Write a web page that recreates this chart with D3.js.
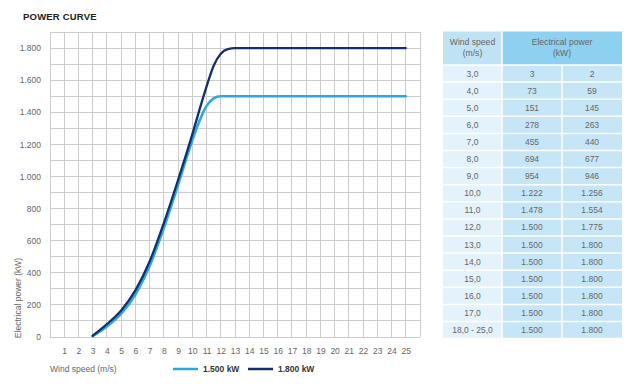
<!DOCTYPE html>
<html>
<head>
<meta charset="utf-8">
<script src="https://cdn.jsdelivr.net/npm/d3@7"></script>
<style>
  html, body { margin: 0; padding: 0; background: #fff; }
  svg { display: block; font-family: "Liberation Sans", Arial, sans-serif; }
</style>
</head>
<body>
<svg id="chart" width="629" height="388"></svg>
<script>
// ---- Data ----
const windSpeeds = [3,4,5,6,7,8,9,10,10.5,11,11.5,12,12.5,13,14,15,16,17,18,19,20,21,22,23,24,25];
const power1500  = [5,65,145,265,442,680,948,1225,1345,1440,1487,1500,1500,1500,1500,1500,1500,1500,1500,1500,1500,1500,1500,1500,1500,1500];
const power1800  = [8,80,165,290,470,710,978,1262,1415,1560,1690,1765,1794,1800,1800,1800,1800,1800,1800,1800,1800,1800,1800,1800,1800,1800];
const yTicks = [0,200,400,600,800,1000,1200,1400,1600,1800];
const xTicks = d3.range(1, 26);
const seriesNames = ["1.500 kW", "1.800 kW"];
const seriesColors = ["#2aa9e0", "#13306a"];

const tableWind = ["3,0","4,0","5,0","6,0","7,0","8,0","9,0","10,0","11,0","12,0","13,0","14,0","15,0","16,0","17,0","18,0 - 25,0"];
const table1500 = ["3","73","151","278","455","694","954","1.222","1.478","1.500","1.500","1.500","1.500","1.500","1.500","1.500"];
const table1800 = ["2","59","145","263","440","677","946","1.256","1.554","1.775","1.800","1.800","1.800","1.800","1.800","1.800"];

// ---- Layout ----
const svg = d3.select("#chart");
const plot = { left: 50, right: 420, top: 32, bottom: 337 };
const x = d3.scaleLinear().domain([0, 26]).range([plot.left, plot.right]);
const y = d3.scaleLinear().domain([0, 1900]).range([plot.bottom, plot.top]);
const fmt = v => d3.format(",")(v).replace(/,/g, ".");
const textColor = "#666";

// Title
svg.append("text").attr("x", 23).attr("y", 20)
  .attr("font-size", 9.5).attr("font-weight", "bold").attr("fill", "#222")
  .attr("letter-spacing", 0.2).text("POWER CURVE");

// Grid
const grid = svg.append("g").attr("stroke", "#cccccc").attr("stroke-width", 1).attr("shape-rendering", "crispEdges");
grid.selectAll("line.v").data(d3.range(0, 27)).join("line")
  .attr("x1", d => x(d)).attr("x2", d => x(d))
  .attr("y1", plot.top).attr("y2", plot.bottom);
grid.selectAll("line.h").data(d3.range(0, 2000, 100)).join("line")
  .attr("y1", d => y(d)).attr("y2", d => y(d))
  .attr("x1", plot.left).attr("x2", plot.right);

// Y axis
const yAxis = svg.append("g").attr("transform", `translate(${plot.left - 6},0)`)
  .call(d3.axisLeft(y).tickValues(yTicks).tickSize(0).tickFormat(fmt));
yAxis.select(".domain").remove();
yAxis.selectAll("text").attr("font-size", 8.5).attr("fill", textColor)
  .attr("font-family", "Liberation Sans, Arial, sans-serif");

// X axis
const xAxis = svg.append("g").attr("transform", `translate(0,${plot.bottom + 8})`)
  .call(d3.axisBottom(x).tickValues(xTicks).tickSize(0).tickFormat(d3.format("d")));
xAxis.select(".domain").remove();
xAxis.selectAll("text").attr("font-size", 8.5).attr("fill", textColor)
  .attr("font-family", "Liberation Sans, Arial, sans-serif");

// Axis labels
svg.append("text").attr("transform", "translate(21,298) rotate(-90)")
  .attr("text-anchor", "middle").attr("font-size", 8.5).attr("fill", textColor)
  .text("Electrical power (kW)");
svg.append("text").attr("x", 50).attr("y", 372)
  .attr("font-size", 8.5).attr("fill", textColor).text("Wind speed (m/s)");

// Lines
const line = d3.line().x(d => x(d[0])).y(d => y(d[1])).curve(d3.curveMonotoneX);
const series = [power1500, power1800];
series.forEach((vals, i) => {
  svg.append("path")
    .datum(windSpeeds.map((w, j) => [w, vals[j]]))
    .attr("fill", "none").attr("stroke", seriesColors[i])
    .attr("stroke-width", i === 0 ? 2.6 : 2.3)
    .attr("stroke-linecap", "round")
    .attr("d", line);
});

// Legend
const legendX = [173, 248];
seriesNames.forEach((name, i) => {
  const g = svg.append("g").attr("transform", `translate(${legendX[i]},369)`);
  g.append("line").attr("x1", 0).attr("x2", 25).attr("y1", 0).attr("y2", 0)
    .attr("stroke", seriesColors[i]).attr("stroke-width", 2.5);
  g.append("text").attr("x", 30).attr("y", 3).attr("font-size", 8.5)
    .attr("font-weight", "bold").attr("fill", "#333").text(name);
});

// ---- Table ----
const tbl = svg.append("g");
const colX = [443, 502, 562, 622];
const headTop = 31.5, headBottom = 65, rowH = 17.1;
tbl.append("rect").attr("x", colX[0]).attr("y", headTop).attr("width", colX[1] - colX[0]).attr("height", headBottom - headTop).attr("fill", "#bfe2f5");
tbl.append("rect").attr("x", colX[1]).attr("y", headTop).attr("width", colX[3] - colX[1]).attr("height", headBottom - headTop).attr("fill", "#8dd0f0");
const headFs = 8.6;
tbl.append("text").attr("x", (colX[0] + colX[1]) / 2).attr("y", 45).attr("text-anchor", "middle")
  .attr("font-size", headFs).attr("fill", textColor).text("Wind speed");
tbl.append("text").attr("x", (colX[0] + colX[1]) / 2).attr("y", 56).attr("text-anchor", "middle")
  .attr("font-size", headFs).attr("fill", textColor).text("(m/s)");
tbl.append("text").attr("x", (colX[1] + colX[3]) / 2).attr("y", 45).attr("text-anchor", "middle")
  .attr("font-size", headFs).attr("fill", textColor).text("Electrical power");
tbl.append("text").attr("x", (colX[1] + colX[3]) / 2).attr("y", 56).attr("text-anchor", "middle")
  .attr("font-size", headFs).attr("fill", textColor).text("(kW)");

const rowColors = ["#e3f2fb", "#c6e6f7", "#c6e6f7"];
tableWind.forEach((w, r) => {
  const ry = headBottom + r * rowH;
  const cells = [w, table1500[r], table1800[r]];
  cells.forEach((c, ci) => {
    tbl.append("rect").attr("x", colX[ci]).attr("y", ry)
      .attr("width", colX[ci + 1] - colX[ci]).attr("height", rowH)
      .attr("fill", rowColors[ci]);
    tbl.append("text").attr("x", (colX[ci] + colX[ci + 1]) / 2).attr("y", ry + rowH / 2 + 3)
      .attr("text-anchor", "middle").attr("font-size", 8.5).attr("fill", textColor).text(c);
  });
});
const sep = tbl.append("g").attr("stroke", "#fff").attr("stroke-width", 1.5);
d3.range(0, tableWind.length + 1).forEach(r => {
  const ry = headBottom + r * rowH;
  sep.append("line").attr("x1", colX[0]).attr("x2", colX[3]).attr("y1", ry).attr("y2", ry);
});
sep.append("line").attr("x1", colX[1]).attr("x2", colX[1]).attr("y1", headTop).attr("y2", headBottom + tableWind.length * rowH);
sep.append("line").attr("x1", colX[2]).attr("x2", colX[2]).attr("y1", headBottom).attr("y2", headBottom + tableWind.length * rowH);
</script>
</body>
</html>
